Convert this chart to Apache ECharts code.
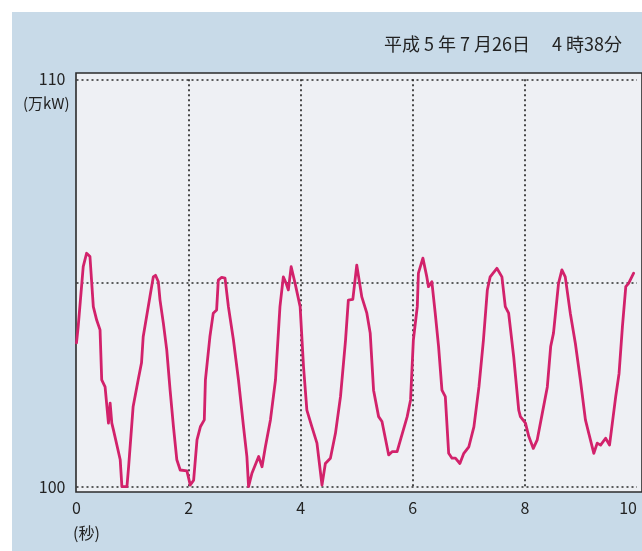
<!DOCTYPE html>
<html>
<head>
<meta charset="utf-8">
<script src="https://cdn.jsdelivr.net/npm/echarts@6/dist/echarts.min.js"></script>
<style>
  html, body { margin: 0; padding: 0; background: #ffffff; }
  #wrap { position: relative; width: 642px; height: 551px; overflow: hidden; }
  #bg { position: absolute; left: 12px; top: 12px; right: 0; bottom: 0; background: #c8dae8; }
  #chart { position: absolute; left: 0; top: 0; width: 642px; height: 551px; }
</style>
</head>
<body>
<div id="wrap"><div id="bg"></div><div id="chart"></div></div>
<script>
// Time (seconds)
const seconds = [
  0.00, 0.03, 0.12, 0.18, 0.24, 0.30, 0.36, 0.42, 0.45, 0.51,
  0.57, 0.60, 0.63, 0.66, 0.78, 0.81, 0.90, 0.93, 1.01, 1.10,
  1.16, 1.19, 1.31, 1.37, 1.41, 1.46, 1.49, 1.55, 1.61, 1.67,
  1.73, 1.79, 1.85, 1.97, 2.03, 2.09, 2.15, 2.21, 2.28, 2.30,
  2.38, 2.44, 2.50, 2.53, 2.59, 2.65, 2.71, 2.80, 2.89, 2.98,
  3.04, 3.07, 3.13, 3.25, 3.31, 3.37, 3.46, 3.55, 3.63, 3.69,
  3.74, 3.78, 3.83, 3.90, 3.99, 4.05, 4.11, 4.20, 4.29, 4.38,
  4.44, 4.53, 4.62, 4.71, 4.80, 4.85, 4.93, 5.00, 5.09, 5.18,
  5.24, 5.30, 5.39, 5.45, 5.57, 5.63, 5.72, 5.78, 5.90, 5.96,
  6.01, 6.08, 6.10, 6.18, 6.25, 6.28, 6.34, 6.40, 6.46, 6.52,
  6.58, 6.64, 6.70, 6.76, 6.84, 6.91, 7.00, 7.09, 7.18, 7.26,
  7.33, 7.38, 7.50, 7.59, 7.65, 7.71, 7.80, 7.89, 7.92, 8.01,
  8.07, 8.15, 8.22, 8.31, 8.40, 8.46, 8.51, 8.60, 8.66, 8.72,
  8.81, 8.90, 8.99, 9.08, 9.14, 9.23, 9.29, 9.35, 9.44, 9.51,
  9.56, 9.62, 9.68, 9.74, 9.80, 9.85, 9.94
];
// Power (万kW)
const power = [
  103.53, 103.93, 105.40, 105.73, 105.65, 104.42, 104.09, 103.85, 102.62, 102.45,
  101.56, 102.05, 101.56, 101.39, 100.66, 100.00, 100.00, 100.49, 101.96, 102.62,
  103.04, 103.68, 104.66, 105.15, 105.19, 105.03, 104.58, 104.01, 103.36, 102.37,
  101.47, 100.66, 100.41, 100.39, 100.04, 100.16, 101.15, 101.47, 101.64, 102.62,
  103.68, 104.26, 104.34, 105.07, 105.14, 105.12, 104.42, 103.60, 102.62, 101.47,
  100.74, 100.00, 100.33, 100.74, 100.49, 100.98, 101.64, 102.62, 104.42, 105.15,
  104.99, 104.83, 105.40, 104.99, 104.42, 102.95, 101.88, 101.47, 101.07, 100.04,
  100.57, 100.70, 101.31, 102.21, 103.60, 104.58, 104.60, 105.44, 104.66, 104.26,
  103.77, 102.37, 101.72, 101.60, 100.78, 100.86, 100.86, 101.15, 101.72, 102.13,
  103.60, 104.42, 105.24, 105.61, 105.15, 104.91, 105.03, 104.26, 103.44, 102.37,
  102.21, 100.82, 100.70, 100.70, 100.57, 100.82, 100.98, 101.47, 102.45, 103.60,
  104.83, 105.15, 105.36, 105.15, 104.42, 104.26, 103.19, 101.88, 101.72, 101.56,
  101.23, 100.94, 101.15, 101.80, 102.45, 103.44, 103.77, 104.99, 105.32, 105.15,
  104.26, 103.52, 102.62, 101.64, 101.31, 100.82, 101.07, 101.02, 101.19, 101.02,
  101.56, 102.21, 102.78, 103.93, 104.91, 104.99, 105.24
];
const xTicks = [0, 2, 4, 6, 8, 10];
const yTicks = [100, 105, 110];
const yLabelled = [100, 110];
const titleText = '平成 5 年 7 月26日　 4 時38分';
const yUnit = '(万kW)';
const xUnit = '(秒)';

const FONT = '"Noto Sans CJK JP", "Noto Sans", sans-serif';
const chart = echarts.init(document.getElementById('chart'), null, { renderer: 'canvas' });
const data = seconds.map((t, i) => [t, power[i]]);
const gridLine = { show: true, lineStyle: { color: '#2b2b2b', width: 1.7, type: [2, 3] } };

chart.setOption({
  backgroundColor: 'transparent',
  animation: false,
  textStyle: { fontFamily: FONT },
  title: [
    { text: titleText, right: 15, top: 30, textStyle: { fontSize: 18, fontWeight: 'normal', color: '#222', fontFamily: FONT } },
    { text: yUnit, left: 18, top: 91, textStyle: { fontSize: 15, fontWeight: 'normal', color: '#222', fontFamily: FONT } },
    { text: xUnit, left: 68, top: 520, textStyle: { fontSize: 16, fontWeight: 'normal', color: '#222', fontFamily: FONT } }
  ],
  grid: [
    { left: 76.5, right: 5, top: 79.3, bottom: 64.3, show: false, z: 2 },
    { left: 76, right: -10, top: 73, bottom: 59, show: true, backgroundColor: '#eef0f4', borderColor: '#2b2b2b', borderWidth: 1.6, z: 0 }
  ],
  xAxis: [
    {
      type: 'value', gridIndex: 0, min: xTicks[0], max: xTicks[xTicks.length - 1], interval: 2, z: 3,
      axisLine: { show: false }, axisTick: { show: false },
      splitLine: Object.assign({ showMinLine: false, showMaxLine: false }, gridLine),
      axisLabel: { color: '#222', fontSize: 16, margin: 13, fontFamily: FONT, alignMaxLabel: 'right' }
    },
    { type: 'value', gridIndex: 1, show: false, min: 0, max: 1 }
  ],
  yAxis: [
    {
      type: 'value', gridIndex: 0, min: yTicks[0], max: yTicks[yTicks.length - 1], interval: 5, z: 3,
      axisLine: { show: false }, axisTick: { show: false },
      splitLine: Object.assign({ showMinLine: true, showMaxLine: true }, gridLine),
      axisLabel: {
        color: '#222', fontSize: 16, margin: 11, fontFamily: FONT,
        formatter: v => (yLabelled.indexOf(v) >= 0 ? String(v) : '')
      }
    },
    { type: 'value', gridIndex: 1, show: false, min: 0, max: 1 }
  ],
  series: [
    {
      type: 'line', xAxisIndex: 0, yAxisIndex: 0, data: data, z: 5,
      showSymbol: false, symbol: 'none', smooth: false, clip: false,
      lineStyle: { color: '#d2226b', width: 2.8, join: 'round', cap: 'round' }
    }
  ]
});
</script>
</body>
</html>
